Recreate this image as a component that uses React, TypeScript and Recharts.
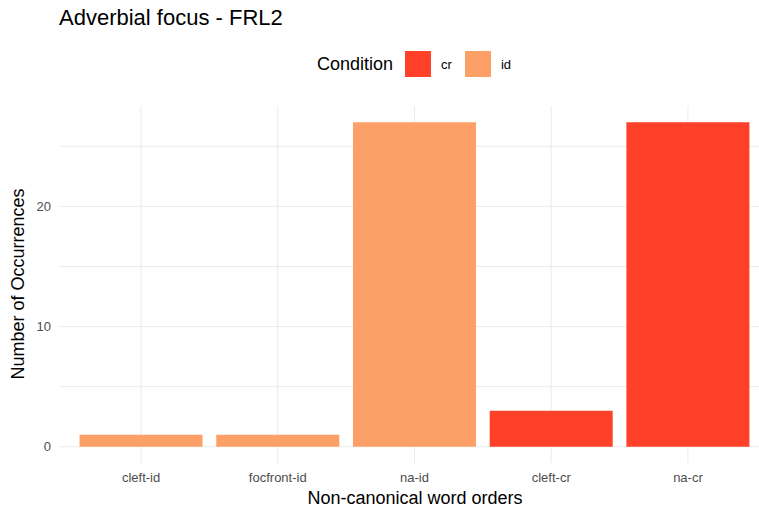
import { BarChart, Bar, Cell, XAxis, YAxis, CartesianGrid } from 'recharts'

const categories = ['cleft-id', 'focfront-id', 'na-id', 'cleft-cr', 'na-cr']
const counts = [1, 1, 27, 3, 27]
const conditions = ['id', 'id', 'id', 'cr', 'cr']
const yTicks = [0, 5, 10, 15, 20, 25]
const legendItems = ['cr', 'id']

const colors: Record<string, string> = { cr: '#FE4128', id: '#FDA068' }
const font = '"Liberation Sans", Arial, sans-serif'

const data = categories.map((name, i) => ({ name, count: counts[i], condition: conditions[i] }))

export default function App() {
  return (
    <div style={{ position: 'fixed', left: 0, top: 0, width: 759, height: 510, overflow: 'hidden', background: '#fff', fontFamily: font }}>
      <div style={{ position: 'absolute', left: 59, top: 5, fontSize: 22, color: '#000', whiteSpace: 'nowrap' }}>
        Adverbial focus - FRL2
      </div>

      {/* legend */}
      <div style={{ position: 'absolute', left: 317, top: 51, height: 26, display: 'flex', alignItems: 'center' }}>
        <span style={{ fontSize: 18, color: '#000', marginRight: 12 }}>Condition</span>
        {legendItems.map((k) => (
          <span key={k} style={{ display: 'flex', alignItems: 'center' }}>
            <span style={{ width: 26, height: 26, background: colors[k], display: 'inline-block' }} />
            <span style={{ fontSize: 13, color: '#000', marginLeft: 10, marginRight: 13 }}>{k}</span>
          </span>
        ))}
      </div>

      <BarChart
        width={775}
        height={510}
        data={data}
        margin={{ top: 106, right: 5, left: 0, bottom: 0 }}
        barCategoryGap="5%"
      >
        <CartesianGrid stroke="#EBEBEB" strokeWidth={1} syncWithTicks />
        <XAxis
          dataKey="name"
          padding={{ left: 13.7, right: 13.7 }}
          axisLine={false}
          tickLine={false}
          tickSize={0}
          tickMargin={10}
          height={47}
          interval={0}
          tick={{ fill: '#4D4D4D', fontSize: 13, fontFamily: font }}
        />
        <YAxis
          type="number"
          domain={[-1.35, 28.35]}
          ticks={yTicks}
          tickFormatter={(v: number) => (v % 10 === 0 ? String(v) : '')}
          axisLine={false}
          tickLine={false}
          tickSize={0}
          tickMargin={8}
          width={59}
          tick={{ fill: '#4D4D4D', fontSize: 13, fontFamily: font }}
        />
        <Bar dataKey="count" isAnimationActive={false}>
          {data.map((d, i) => (
            <Cell key={`cell-${i}`} fill={colors[d.condition]} />
          ))}
        </Bar>
      </BarChart>

      <div
        style={{
          position: 'absolute',
          left: 18,
          top: 284,
          transform: 'translate(-50%, -50%) rotate(-90deg)',
          whiteSpace: 'nowrap',
          fontSize: 18,
          color: '#000',
        }}
      >
        Number of Occurrences
      </div>
      <div
        style={{
          position: 'absolute',
          left: 415,
          top: 498,
          transform: 'translate(-50%, -50%)',
          whiteSpace: 'nowrap',
          fontSize: 18,
          color: '#000',
        }}
      >
        Non-canonical word orders
      </div>
    </div>
  )
}
